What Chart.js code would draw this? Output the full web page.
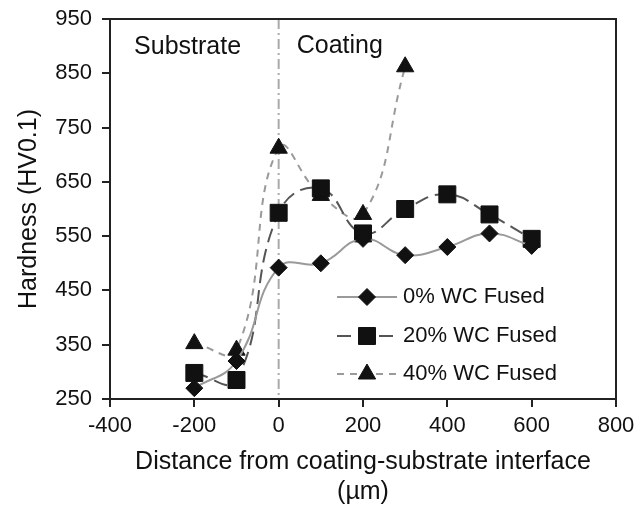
<!DOCTYPE html>
<html>
<head>
<meta charset="utf-8">
<script src="https://cdn.jsdelivr.net/npm/chart.js@4/dist/chart.umd.min.js"></script>
<style>
  html, body { margin: 0; padding: 0; background: #fff; }
  #wrap { width: 644px; height: 507px; }
</style>
</head>
<body>
<div id="wrap"><canvas id="hardChart" width="644" height="507"></canvas></div>
<script>
// distances in µm
const distances = [-200, -100, 0, 100, 200, 300, 400, 500, 600];
const fused0 = [270, 320, 492, 500, 545, 515, 530, 555, 532];
const fused20 = [298, 285, 593, 638, 555, 600, 627, 590, 545];
const fused40 = [352, 340, 712, 625, 590, 862];
const seriesNames = ["0% WC Fused", "20% WC Fused", "40% WC Fused"];
const xTicks = [-400, -200, 0, 200, 400, 600, 800];
const yTicks = [250, 350, 450, 550, 650, 750, 850, 950];

const FONT = "'Liberation Sans', Arial, sans-serif";

function pts(vals) {
  return vals.map((v, i) => ({ x: distances[i], y: v }));
}

// interface line, region labels, frame and the legend
const extras = {
  id: "extras",
  beforeDatasetsDraw(chart) {
    const { ctx, chartArea: a, scales } = chart;
    const x0 = scales.x.getPixelForValue(0);
    ctx.save();
    ctx.strokeStyle = "#aaa";
    ctx.lineWidth = 2;
    ctx.setLineDash([10, 4, 2, 4]);
    ctx.beginPath();
    ctx.moveTo(x0, a.top);
    ctx.lineTo(x0, a.bottom);
    ctx.stroke();
    ctx.restore();

    ctx.save();
    ctx.fillStyle = "#111";
    ctx.font = "25px " + FONT;
    ctx.textBaseline = "middle";
    ctx.textAlign = "center";
    ctx.fillText("Substrate", scales.x.getPixelForValue(-216), a.top + 28);
    ctx.fillText("Coating", scales.x.getPixelForValue(145), a.top + 27);
    ctx.restore();
  },
  afterDraw(chart) {
    const { ctx, chartArea: a } = chart;
    ctx.save();
    ctx.strokeStyle = "#222";
    ctx.lineWidth = 2;
    ctx.beginPath();
    ctx.moveTo(a.left, a.top);
    ctx.lineTo(a.right, a.top);
    ctx.lineTo(a.right, a.bottom);
    ctx.stroke();
    ctx.restore();

    // legend: line sample with marker in the middle
    const lx = 337, lw = 60, tx = 403;
    const rows = [297, 336, 374];
    chart.data.datasets.forEach((ds, i) => {
      const y = rows[i];
      ctx.save();
      ctx.strokeStyle = ds.borderColor;
      ctx.lineWidth = ds.borderWidth;
      ctx.setLineDash(ds.borderDash || []);
      ctx.beginPath();
      ctx.moveTo(lx, y);
      ctx.lineTo(lx + lw, y);
      ctx.stroke();
      ctx.restore();
      ctx.save();
      ctx.fillStyle = "#111";
      ctx.strokeStyle = "#111";
      Chart.helpers.drawPoint(ctx, {
        pointStyle: ds.pointStyle,
        radius: ds.pointRadius,
        borderWidth: 1
      }, lx + lw / 2, y);
      ctx.font = "22px " + FONT;
      ctx.textBaseline = "middle";
      ctx.fillText(seriesNames[i], tx, y);
      ctx.restore();
    });
  }
};

function makeSet(i, data, color, dash, style, r) {
  return {
    label: seriesNames[i],
    data: pts(data),
    showLine: true,
    tension: 0.45,
    borderColor: color,
    borderWidth: 2,
    borderDash: dash,
    pointStyle: style,
    pointRadius: r,
    pointHoverRadius: r,
    pointBackgroundColor: "#111",
    pointBorderColor: "#111",
    pointBorderWidth: 1
  };
}

const ctx = document.getElementById("hardChart");

new Chart(ctx, {
  type: "scatter",
  data: {
    datasets: [
      makeSet(0, fused0, "#9a9a9a", [], "rectRot", 8.5),
      makeSet(1, fused20, "#555", [14, 7], "rect", 12),
      makeSet(2, fused40, "#9a9a9a", [7, 6], "triangle", 10)
    ]
  },
  options: {
    responsive: false,
    animation: false,
    layout: { padding: { top: 19, right: 28, left: 8, bottom: 0 } },
    plugins: {
      legend: { display: false },
      tooltip: { enabled: false }
    },
    scales: {
      x: {
        type: "linear",
        min: -400,
        max: 800,
        afterBuildTicks: s => { s.ticks = xTicks.map(v => ({ value: v })); },
        afterFit: s => { s.height = 108; },
        grid: { drawOnChartArea: false, drawTicks: true, tickLength: 8, color: "#222", lineWidth: 2 },
        border: { color: "#222", width: 2 },
        ticks: { color: "#111", font: { family: FONT, size: 22 }, padding: 6, maxRotation: 0 },
        title: {
          display: true,
          text: ["Distance from coating-substrate interface", "(µm)"],
          color: "#111",
          font: { family: FONT, size: 25 },
          padding: { top: 4, bottom: 0 }
        }
      },
      y: {
        min: 250,
        max: 950,
        afterBuildTicks: s => { s.ticks = yTicks.map(v => ({ value: v })); },
        afterFit: s => { s.width = 102; },
        grid: { drawOnChartArea: false, drawTicks: true, tickLength: 8, color: "#222", lineWidth: 2 },
        border: { color: "#222", width: 2 },
        ticks: { color: "#111", font: { family: FONT, size: 22, lineHeight: 0.6 }, padding: 10 },
        title: {
          display: true,
          text: "Hardness (HV0.1)",
          color: "#111",
          font: { family: FONT, size: 25 },
          padding: { top: 6, bottom: 0 }
        }
      }
    }
  },
  plugins: [extras]
});
</script>
</body>
</html>
